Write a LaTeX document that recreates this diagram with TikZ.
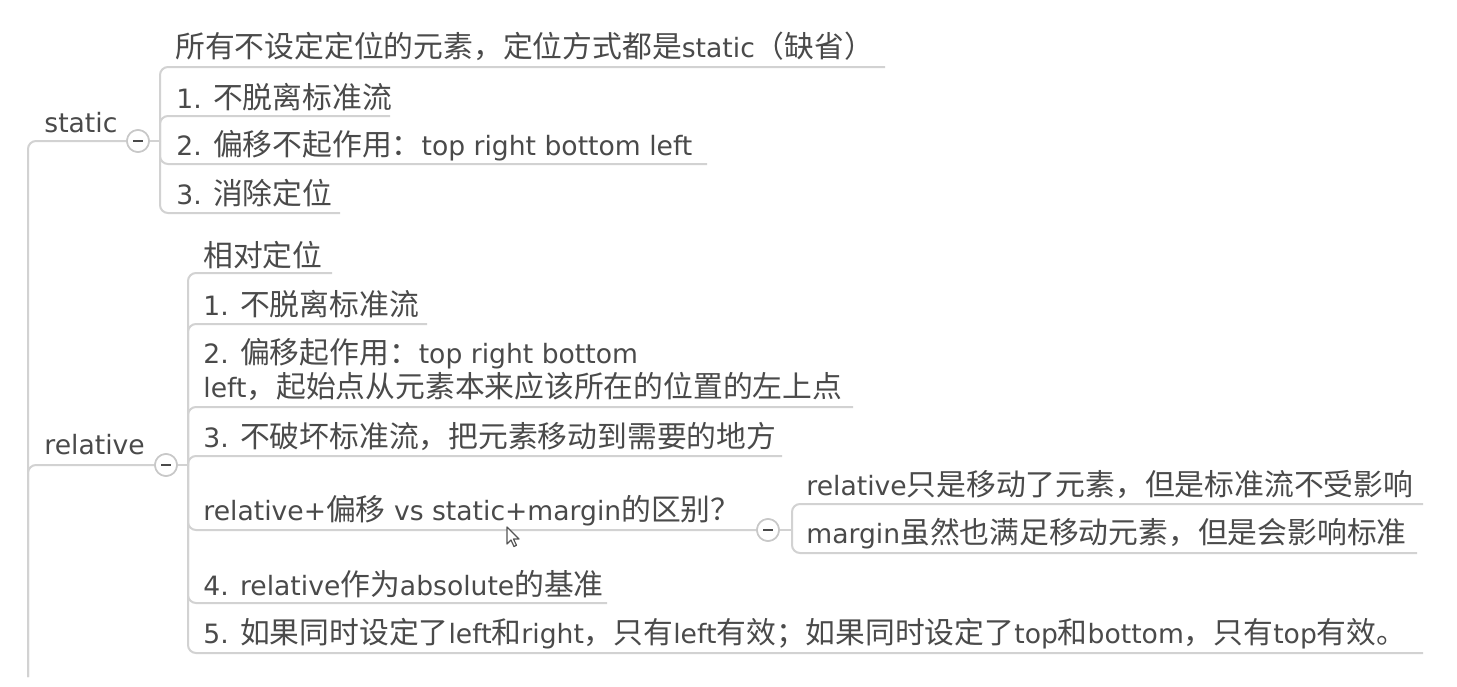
\documentclass[tikz,border=0pt]{standalone}
\usepackage{fontspec}
\setmainfont{DejaVu Sans}
\newfontfamily\cjk[Scale=1.12]{Noto Sans CJK SC}
\newcommand{\zh}[1]{{\cjk #1}}
\definecolor{linegray}{HTML}{D2D2D2}
\definecolor{circgray}{HTML}{C8C8C8}
\definecolor{textgray}{HTML}{4A4A4A}
\definecolor{cursorgray}{HTML}{555555}
\begin{document}
\begin{tikzpicture}[x=0.5pt,y=-0.5pt,
  conn/.style={draw=linegray, line width=1pt, rounded corners=4pt},
  txt/.style={anchor=base west, inner sep=0pt, text=textgray, font=\fontsize{13.3}{17}\selectfont},
  toggle/.style={circle, draw=circgray, fill=white, line width=0.8pt, minimum size=11pt, inner sep=0pt,
    path picture={\draw[textgray, line width=0.8pt] ([xshift=-2.5pt]path picture bounding box.center) -- ([xshift=2.5pt]path picture bounding box.center);}}
]
\useasboundingbox[fill=white] (0,0) rectangle (1457,686);

% ---------- static ----------
\node[txt] (static) at (44,132) {static};
\node[toggle] (ts) at (138,141) {};
\node[txt] (s0) at (175,57) {\zh{所有不设定定位的元素，定位方式都是}static\zh{（缺省）}};
\node[txt] (s1) at (176,108) {1. \zh{不脱离标准流}};
\node[txt] (s2) at (176,155) {2. \zh{偏移不起作用：}top right bottom left};
\node[txt] (s3) at (176,204) {3. \zh{消除定位}};
\coordinate (sb) at (160,141);
\coordinate (s0e) at (885,67);
\coordinate (s1e) at (390,116);
\coordinate (s2e) at (707,164);
\coordinate (s3e) at (340,213);

% ---------- relative ----------
\node[txt] (relative) at (44,454) {relative};
\node[toggle] (tr) at (166,465) {};
\node[txt] (r0) at (203,266) {\zh{相对定位}};
\node[txt] (r1) at (203,315) {1. \zh{不脱离标准流}};
\node[txt] (r2) at (203,363) {\vtop{\baselineskip=17pt\lineskiplimit=-100pt
  \hbox{2. \zh{偏移起作用：}top right bottom}
  \hbox{left\zh{，起始点从元素本来应该所在的位置的左上点}}}};
\node[txt] (r3) at (203,447) {3. \zh{不破坏标准流，把元素移动到需要的地方}};
\node[txt] (r4) at (203,520) {relative+\zh{偏移} vs static+margin\zh{的区别？}};
\node[toggle] (tm) at (768,530) {};
\node[txt] (m1) at (806,495) {relative\zh{只是移动了元素，但是标准流不受影响}};
\node[txt] (m2) at (806,543) {margin\zh{虽然也满足移动元素，但是会影响标准}};
\node[txt] (r5) at (203,595) {4. relative\zh{作为}absolute\zh{的基准}};
\node[txt] (r6) at (203,643) {5. \zh{如果同时设定了}left\zh{和}right\zh{，只有}left\zh{有效；如果同时设定了}top\zh{和}bottom\zh{，只有}top\zh{有效。}};
\coordinate (rb) at (188,465);
\coordinate (r0e) at (332,273);
\coordinate (r1e) at (427,324);
\coordinate (r2e) at (853,407);
\coordinate (r3e) at (782,456);
\coordinate (r5e) at (607,603);
\coordinate (r6e) at (1423,653);
\coordinate (mb) at (792,530);
\coordinate (m1e) at (1423,504);
\coordinate (m2e) at (1417,553);

% ---------- trunk ----------
\coordinate (trunk) at (28,677);
\draw[conn] (trunk) |- (ts.west);
\draw[conn] (trunk) |- (tr.west);

% ---------- static branches ----------
\draw[conn] (ts.east) -- (sb);
\draw[conn] (s0e) -| (sb) |- (s3e);
\draw[conn] (sb) |- (s1e);
\draw[conn] (sb) |- (s2e);

% ---------- relative branches ----------
\draw[conn] (tr.east) -- (rb);
\draw[conn] (r0e) -| (rb) |- (r6e);
\draw[conn] (rb) |- (r1e);
\draw[conn] (rb) |- (r2e);
\draw[conn] (rb) |- (r3e);
\draw[conn] (rb) |- (tm.west);
\draw[conn] (rb) |- (r5e);

% ---------- sub branches ----------
\draw[conn] (tm.east) -- (mb);
\draw[conn] (m1e) -| (mb) |- (m2e);

% redraw toggles above lines
\node[toggle] at (ts) {};
\node[toggle] at (tr) {};
\node[toggle] at (tm) {};

% ---------- mouse cursor ----------
\draw[fill=white, draw=cursorgray, line width=0.6pt, line join=round]
  (507,527) -- ++(0,17) -- ++(4,-4) -- ++(3,6.5) -- ++(2.5,-1.2) -- ++(-3,-6.3) -- ++(5.5,0) -- cycle;
\end{tikzpicture}
\end{document}
